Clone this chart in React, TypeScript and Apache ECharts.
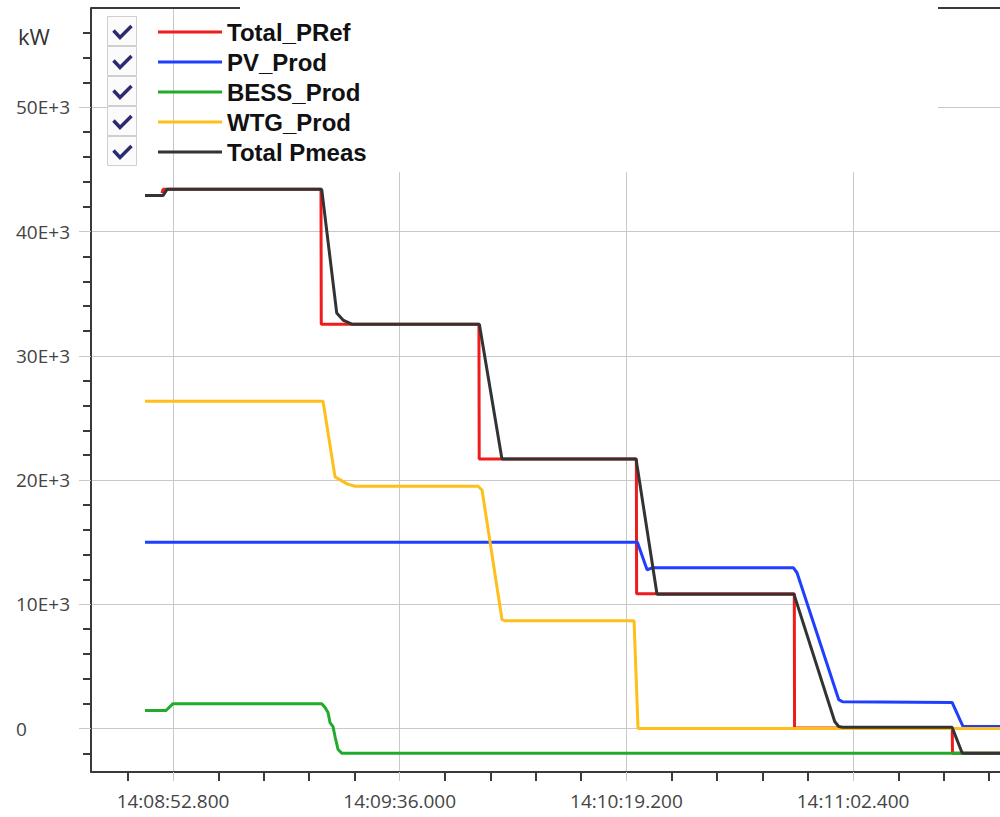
import React, { useEffect, useRef } from 'react';
import * as echarts from 'echarts';

// x values: seconds after 14:00:00, y values: kW
const seriesNames = ['Total_PRef', 'PV_Prod', 'BESS_Prod', 'WTG_Prod', 'Total Pmeas'];
const seriesColors = ['#ee1c1c', '#1f3fff', '#22aa2a', '#ffbf1a', '#333333'];

const totalPRef: [number, number][] = [
  [530.7, 43100], [530.9, 43400], [561.0, 43400], [561.05, 32550], [591.1, 32550],
  [591.15, 21700], [621.1, 21700], [621.15, 10850], [651.2, 10850], [651.25, 50],
  [681.3, 50], [681.35, -2000], [691.0, -2000],
];

const pvProd: [number, number][] = [
  [527.46, 15000], [621.3, 15000], [623.14, 12780], [624.28, 12950], [651.0, 12950],
  [651.72, 12540], [659.66, 2330], [660.4, 2150], [681.27, 2100], [683.36, 160], [691.0, 160],
];

const bessProd: [number, number][] = [
  [527.46, 1450], [531.47, 1450], [532.8, 2000], [561.14, 2000], [561.77, 1690],
  [562.34, 1290], [562.72, 480], [563.29, 160], [563.67, -640], [564.25, -1690],
  [565.01, -2000], [691.0, -2000],
];

const wtgProd: [number, number][] = [
  [527.46, 26350], [561.39, 26350], [563.67, 20260], [565.96, 19690], [567.49, 19500],
  [590.93, 19500], [591.69, 19200], [595.5, 8760], [596.0, 8680], [620.66, 8680],
  [621.42, 0], [691.0, 0],
];

const totalPmeas: [number, number][] = [
  [527.46, 42900], [530.89, 42900], [531.66, 43400], [561.14, 43400], [564.0, 33440],
  [565.2, 32880], [566.86, 32550], [591.18, 32550], [595.45, 21780], [595.6, 21700],
  [621.04, 21700], [625.04, 10800], [651.15, 10800], [658.9, 560], [659.66, 160],
  [660.4, 100], [681.27, 100], [683.17, -1950], [683.6, -2000], [691.0, -2000],
];

const xMin = 517.17;
const xMax = 690.4;
const xMajorTicks = [532.8, 576.0, 619.2, 662.4];
const xMinorTicks = [
  524.16, 541.44, 550.08, 558.72, 567.36, 584.64, 593.28, 601.92, 610.56,
  627.84, 636.48, 645.12, 653.76, 671.04, 679.68, 688.32,
];

const yMin = -3500;
const yMax = 58000;
const yMajorTicks = [0, 10000, 20000, 30000, 40000, 50000];
const yMinorTicks = [
  -2000, 2000, 4000, 6000, 8000, 12000, 14000, 16000, 18000, 22000, 24000, 26000, 28000,
  32000, 34000, 36000, 38000, 42000, 44000, 46000, 48000, 52000, 54000, 56000,
];

const seriesData = [totalPRef, pvProd, bessProd, wtgProd, totalPmeas];

const pad = (n: number, w: number) => String(n).padStart(w, '0');
function fmtTime(v: number): string {
  const ms = Math.round(v * 1000);
  const sec = Math.floor(ms / 1000);
  const h = 14 + Math.floor(sec / 3600);
  const m = Math.floor((sec % 3600) / 60);
  const s = sec % 60;
  return `${h}:${pad(m, 2)}:${pad(s, 2)}.${pad(ms % 1000, 3)}`;
}
function fmtKw(v: number): string {
  return v === 0 ? '0' : `${Math.round(v / 1000)}E+3`;
}

const GRID_GRAY = '#c8c8c8';
const AXIS_DARK = '#3a3a3a';
const LABEL_FONT = '"Open Sans", "DejaVu Sans", sans-serif';

export default function App() {
  const ref = useRef<HTMLDivElement>(null);
  useEffect(() => {
    if (!ref.current) return;
    const chart = echarts.init(ref.current, undefined, { renderer: 'svg' });

    const checkboxes: any[] = [];
    for (let i = 0; i < seriesNames.length; i++) {
      const c = 32 + 30 * i;
      checkboxes.push({
        type: 'rect', z: 7,
        shape: { x: 107.5, y: c - 15.5, width: 29, height: 29 },
        style: { fill: '#fbfbfb', stroke: '#cfcfcf', lineWidth: 1 },
      });
      checkboxes.push({
        type: 'polyline', z: 8,
        shape: { points: [[113.5, c - 1.5], [120, c + 5.5], [131.5, c - 6]] },
        style: { stroke: '#2b2b70', lineWidth: 3.5, fill: 'none' },
      });
    }

    const option: any = {
      animation: false,
      backgroundColor: '#ffffff',
      grid: { left: 91, right: 0, top: 8, bottom: 45 },
      legend: {
        orient: 'vertical', left: 158, top: 17, padding: 0, itemGap: 0,
        itemWidth: 64, itemHeight: 3, icon: 'rect', selectedMode: false, z: 8,
        data: seriesNames,
        textStyle: {
          fontFamily: '"Liberation Sans", Arial, sans-serif', fontWeight: 'bold',
          fontSize: 24, color: '#111', lineHeight: 30,
        },
      },
      xAxis: [
        {
          type: 'value', min: xMin, max: xMax, position: 'bottom',
          axisLine: { show: true, onZero: false, lineStyle: { color: AXIS_DARK, width: 2 } },
          axisTick: { show: true, customValues: xMajorTicks, length: 9, lineStyle: { color: GRID_GRAY, width: 1 } },
          axisLabel: {
            customValues: xMajorTicks, formatter: (v: number) => fmtTime(v), margin: 19,
            fontFamily: LABEL_FONT, fontSize: 19, color: '#444',
          },
          splitLine: { show: true, lineStyle: { color: GRID_GRAY, width: 1 } },
        },
        {
          type: 'value', min: xMin, max: xMax, position: 'bottom',
          axisLine: { show: false, onZero: false },
          axisTick: { show: true, customValues: xMinorTicks, length: 9, lineStyle: { color: AXIS_DARK, width: 2 } },
          axisLabel: { show: false },
          splitLine: { show: false },
        },
      ],
      yAxis: [
        {
          type: 'value', min: yMin, max: yMax, position: 'left',
          axisLine: { show: true, onZero: false, lineStyle: { color: AXIS_DARK, width: 2 } },
          axisTick: { show: true, customValues: yMajorTicks, length: 12, lineStyle: { color: GRID_GRAY, width: 1 } },
          axisLabel: {
            customValues: yMajorTicks, formatter: (v: number) => fmtKw(v), margin: 75, align: 'left',
            fontFamily: LABEL_FONT, fontSize: 19, color: '#444',
          },
          splitLine: { show: true, lineStyle: { color: GRID_GRAY, width: 1 } },
        },
        {
          type: 'value', min: yMin, max: yMax, position: 'left',
          axisLine: { show: false, onZero: false },
          axisTick: { show: true, customValues: yMinorTicks, length: 8, lineStyle: { color: AXIS_DARK, width: 2 } },
          axisLabel: { show: false },
          splitLine: { show: false },
        },
      ],
      graphic: [
        { type: 'rect', z: 3, shape: { x: 108, y: 0, width: 830, height: 172 }, style: { fill: '#ffffff' } },
        { type: 'line', z: 4, shape: { x1: 173.5, y1: 8, x2: 173.5, y2: 172 }, style: { stroke: GRID_GRAY, lineWidth: 1 } },
        { type: 'line', z: 4, shape: { x1: 91, y1: 8, x2: 240, y2: 8 }, style: { stroke: AXIS_DARK, lineWidth: 2 } },
        { type: 'line', z: 4, shape: { x1: 938, y1: 8, x2: 1000, y2: 8 }, style: { stroke: AXIS_DARK, lineWidth: 2 } },
        {
          type: 'text', z: 5, x: 18, y: 36,
          style: { text: 'kW', fontFamily: LABEL_FONT, fontSize: 22, fill: '#333', verticalAlign: 'middle' },
        },
        ...checkboxes,
      ],
      series: seriesNames.map((name, i) => ({
        name, type: 'line', data: seriesData[i], xAxisIndex: 0, yAxisIndex: 0,
        showSymbol: false, symbol: 'none', clip: true, z: 2,
        color: seriesColors[i],
        lineStyle: { color: seriesColors[i], width: 3 },
      })),
    };
    chart.setOption(option);
    return () => chart.dispose();
  }, []);
  return (
    <div
      ref={ref}
      style={{ position: 'absolute', left: 0, top: 0, width: 1000, height: 817, background: '#fff' }}
    />
  );
}
